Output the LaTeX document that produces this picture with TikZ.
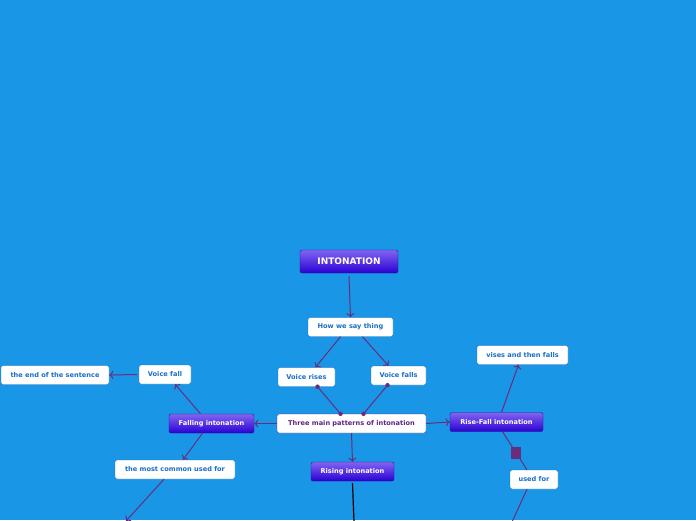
\documentclass[tikz,border=0pt]{standalone}
\usepackage{fontspec}
\setmainfont{DejaVu Sans}
\usetikzlibrary{arrows.meta}
\definecolor{bgblue}{RGB}{26,150,230}
\definecolor{edgepurple}{RGB}{105,45,125}
\definecolor{textblue}{RGB}{25,110,200}
\definecolor{boxline}{RGB}{30,105,185}
\definecolor{toptop}{RGB}{130,100,242}
\definecolor{topbot}{RGB}{42,0,210}
\definecolor{topline}{RGB}{35,20,130}
\definecolor{threetext}{RGB}{95,35,130}
\begin{document}
\begin{tikzpicture}[x=1pt,y=-1pt,>={To[length=4pt,width=8pt]},
  every node/.style={font=\bfseries\fontsize{6.6}{8}\selectfont,inner sep=0pt},
  topic/.style={draw=topline,rounded corners=2pt,top color=toptop,bottom color=topbot,text=white,minimum height=19pt},
  sub/.style={draw=boxline,rounded corners=2pt,fill=white,text=textblue,minimum height=19pt},
  link/.style={edgepurple,line width=1pt},
  dot/.style={circle,fill=edgepurple,minimum size=4.5pt}]
\fill[bgblue] (0,0) rectangle (696,520);
\useasboundingbox (0,0) rectangle (696,520);
\node[topic,minimum width=98pt,minimum height=23pt,font=\bfseries\fontsize{9}{10}\selectfont] (into) at (349,261.5) {INTONATION};
\node[sub,minimum width=85pt] (how) at (350.5,327) {How we say thing};
\node[sub,minimum width=57pt] (rises) at (306.5,377) {Voice rises};
\node[sub,minimum width=55pt] (falls) at (398.5,375.5) {Voice falls};
\node[sub,draw=threetext,text=threetext,minimum width=149pt] (three) at (351.5,423.5) {Three main patterns of intonation};
\node[topic,minimum width=85pt] (falling) at (211.5,423.5) {Falling intonation};
\node[sub,minimum width=52pt] (vfall) at (165,374.5) {Voice fall};
\node[sub,minimum width=108pt] (end) at (55,375) {the end of the sentence};
\node[sub,minimum width=120pt] (common) at (175,469.5) {the most common used for};
\node[topic,minimum width=83pt] (rising) at (352.5,471.5) {Rising intonation};
\node[topic,minimum width=93pt] (risefall) at (496.5,422) {Rise-Fall intonation};
\node[sub,minimum width=91pt] (vises) at (522.5,355) {vises and then falls};
\node[sub,minimum width=48pt] (used) at (534,479.5) {used for};
\coordinate (c1) at (126,521);
\coordinate (c2) at (354,522);
\coordinate (c3) at (512,522);
% main branch
\draw[link,->] ([yshift=-3pt]into.south) -- (how.north);
\draw[link,->] ([xshift=-10pt]how.south) -- ([xshift=9pt]rises.north);
\draw[link,->] ([xshift=12pt]how.south) -- ([xshift=-10pt]falls.north);
\draw[link] ([xshift=11pt]rises.south) node[dot] {} -- ([xshift=-11pt]three.north) node[dot] {};
\draw[link] ([xshift=-11pt]falls.south) node[dot] {} -- ([xshift=12pt]three.north) node[dot] {};
\draw[link,->] (three.west) -- (falling.east);
\draw[link,->] (three.east) -- (risefall.west);
\draw[link,->] (three.south) -- (rising.north);
% falling
\draw[link,->] ([xshift=-11pt]falling.north) -- ([xshift=10pt]vfall.south);
\draw[link,->] ([xshift=-2pt]vfall.west) -- (end.east);
\draw[link,->] ([xshift=-9pt]falling.south) -- ([xshift=8pt]common.north);
\draw[link,->] ([xshift=-11pt]common.south) -- (c1);
% rising
\draw[black,line width=1.2pt] ([yshift=-2pt]rising.south) -- (c2);
% rise-fall
\draw[link,->] ([xshift=5pt]risefall.north) -- ([xshift=-4pt]vises.south);
\draw[link] ([xshift=6pt]risefall.south) -- ([xshift=-7pt]used.north);
\node[fill=edgepurple,minimum width=10pt,minimum height=12pt] (mark) at (516,453) {};
\draw[link] ([xshift=-7pt]used.south) -- (c3);
\end{tikzpicture}
\end{document}
